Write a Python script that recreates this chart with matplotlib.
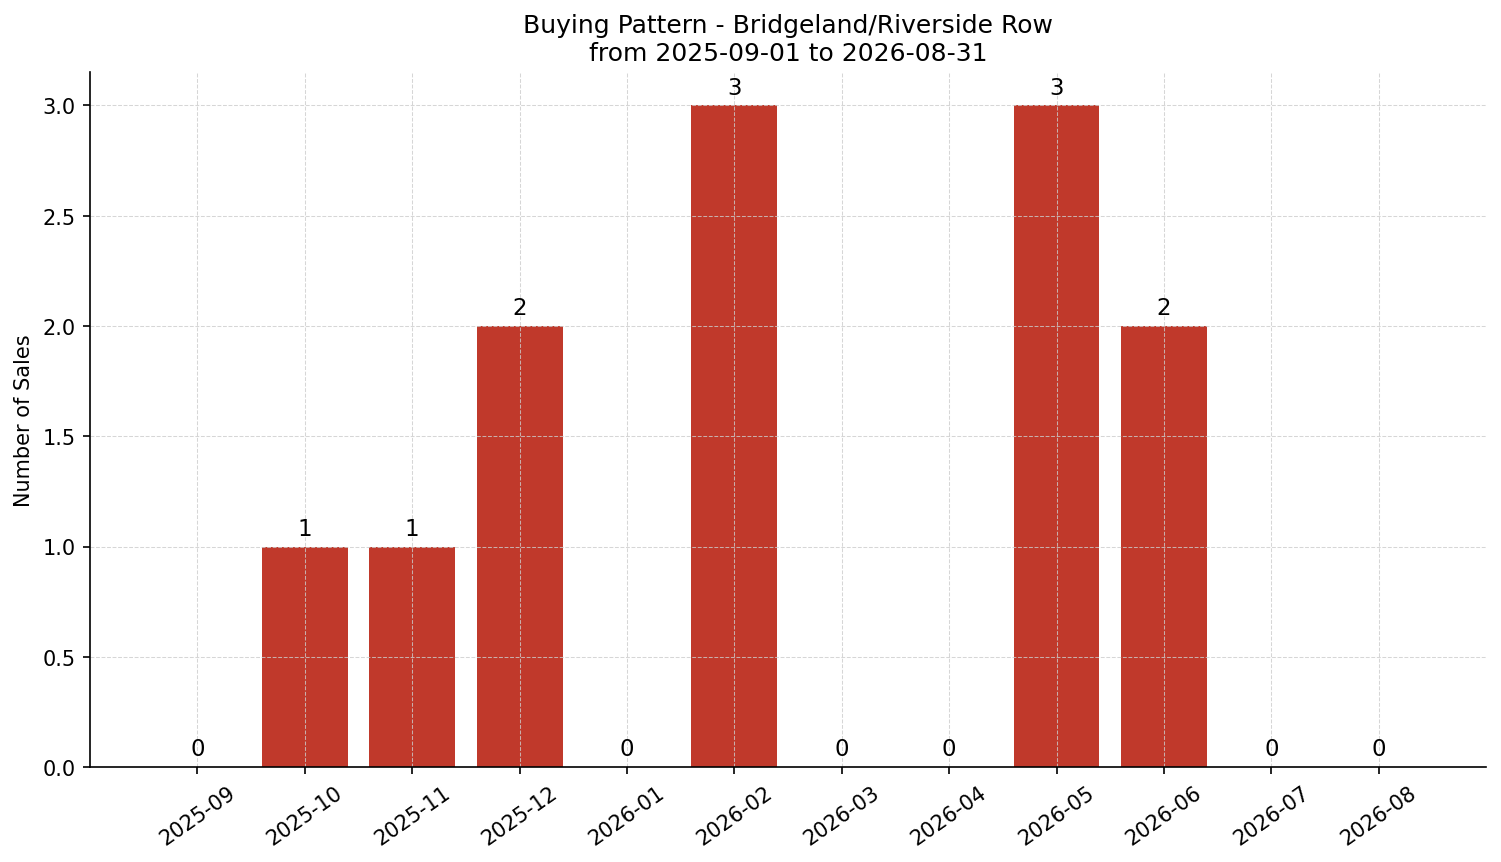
import matplotlib
matplotlib.use("Agg")
import matplotlib.pyplot as plt

months = ["2025-09", "2025-10", "2025-11", "2025-12", "2026-01", "2026-02",
          "2026-03", "2026-04", "2026-05", "2026-06", "2026-07", "2026-08"]
sales = [0, 1, 1, 2, 0, 3, 0, 0, 3, 2, 0, 0]

fig, ax = plt.subplots(figsize=(10.007, 5.753), dpi=150)
x = list(range(len(months)))
bars = ax.bar(x, sales, width=0.8, color="#C0392B")
for xi, v in zip(x, sales):
    ax.text(xi, v + 0.03, str(v), ha="center", va="bottom", fontsize=11)

ax.set_xticks(x)
ax.set_xticklabels(months, rotation=35, ha="center")
ax.set_xlim(-1, 12)
ax.set_ylim(0, 3.15)
ax.set_ylabel("Number of Sales")
ax.set_title("Buying Pattern - Bridgeland/Riverside Row\nfrom 2025-09-01 to 2026-08-31", fontsize=12)
ax.grid(True, linestyle="--", linewidth=0.5, color="#cccccc", alpha=0.8)
ax.spines["top"].set_visible(False)
ax.spines["right"].set_visible(False)
fig.subplots_adjust(left=0.06, right=0.99, top=0.915, bottom=0.11)
fig.savefig("out.png", dpi=150)
